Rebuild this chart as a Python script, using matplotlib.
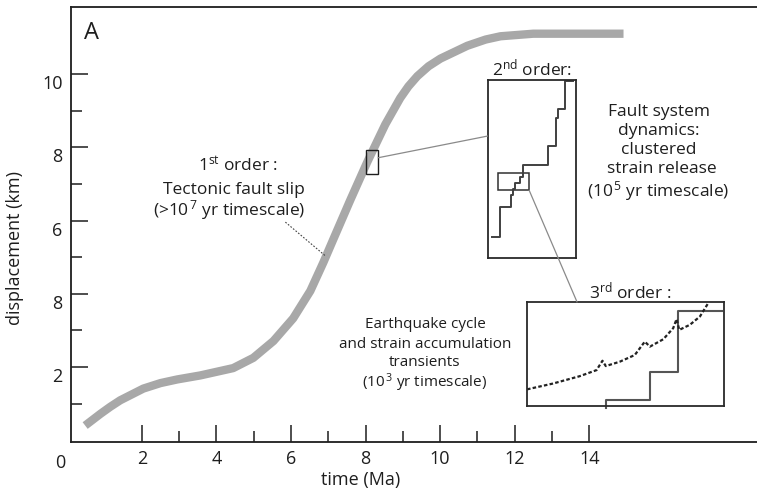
import numpy as np
import matplotlib.pyplot as plt
from matplotlib.patches import Rectangle, ConnectionPatch
from matplotlib.transforms import ScaledTranslation

plt.rcParams['font.family'] = ['Open Sans', 'DejaVu Sans']
plt.rcParams['mathtext.fontset'] = 'custom'
plt.rcParams['mathtext.rm'] = 'Open Sans'
plt.rcParams['mathtext.it'] = 'Open Sans:italic'
plt.rcParams['mathtext.bf'] = 'Open Sans:bold'

# 1st order: tectonic fault slip (time in Ma, displacement in km)
time_ma = [0.48, 0.89, 1.15, 1.42, 2.04, 2.50, 2.95, 3.57, 4.45, 4.99, 5.53,
           6.06, 6.52, 6.87, 7.14, 7.59, 8.05, 8.53, 8.93, 9.15, 9.39, 9.69,
           10.01, 10.73, 11.22, 11.62, 12.50, 14.92]
disp_km = [0.40, 0.72, 0.91, 1.09, 1.41, 1.56, 1.66, 1.77, 1.97, 2.25, 2.71,
           3.33, 4.08, 4.86, 5.50, 6.56, 7.61, 8.63, 9.35, 9.67, 9.95, 10.22,
           10.43, 10.78, 10.95, 11.04, 11.11, 11.11]

xticks_major = [2, 4, 6, 8, 10, 12, 14]
xticks_minor = [3, 5, 7, 9, 11, 13]
yticks_major = [2, 4, 6, 8, 10]
yticks_labels = ['2', '8', '6', '8', '10']
yticks_minor = [1, 3, 5, 7, 9]

# zoom box on the curve
zoom1_t = [8.02, 8.34]
zoom1_d = [7.27, 7.92]

# 2nd order staircase (fractions of inset box)
st2_x = [0.053, 0.140, 0.140, 0.265, 0.265, 0.292, 0.292, 0.318, 0.318, 0.367, 0.367,
         0.398, 0.398, 0.682, 0.682, 0.777, 0.777, 0.803, 0.803, 0.886, 0.886, 0.973]
st2_y = [0.118, 0.118, 0.287, 0.287, 0.353, 0.353, 0.390, 0.390, 0.424, 0.424, 0.456,
         0.456, 0.525, 0.525, 0.630, 0.630, 0.784, 0.784, 0.837, 0.837, 0.994, 0.994]
zoom2_x = [0.114, 0.473]
zoom2_y = [0.381, 0.478]

# 3rd order: slip staircase + strain accumulation (dotted)
st3_x = [0.40, 0.40, 0.624, 0.624, 0.768, 0.768, 0.992]
st3_y = [-0.016, 0.055, 0.055, 0.329, 0.329, 0.916, 0.916]
acc_x = [0.0, 0.132, 0.268, 0.353, 0.383, 0.40, 0.471, 0.547, 0.598, 0.624,
         0.692, 0.742, 0.759, 0.773, 0.827, 0.878, 0.92]
acc_y = [0.16, 0.216, 0.287, 0.345, 0.435, 0.384, 0.426, 0.490, 0.619, 0.571,
         0.642, 0.748, 0.835, 0.732, 0.781, 0.861, 0.99]

W, H = 757, 492


def fx(px):
    return px / W


def fy(py):
    return 1 - py / H


ink = '#1e1e1e'
fig = plt.figure(figsize=(7.57, 4.92), dpi=100)
ax = fig.add_axes([fx(71), fy(442), fx(757) - fx(71), fy(7) - fy(442)])

ax.plot(time_ma, disp_km, color='#a8a8a8', lw=6, solid_capstyle='butt',
        solid_joinstyle='round', zorder=2)
ax.set_xlim(0.1, 18.5)
ax.set_ylim(-0.05, 11.84)

ax.set_xticks(xticks_major)
ax.set_xticks(xticks_minor, minor=True)
ax.set_yticks(yticks_major)
ax.set_yticklabels(yticks_labels)
ax.set_yticks(yticks_minor, minor=True)
ax.tick_params(which='major', direction='in', length=12, width=1.1, color=ink,
               labelsize=13, labelcolor=ink, pad=6)
ax.tick_params(which='minor', direction='in', length=8, width=1.1, color=ink)
ax.spines['right'].set_visible(False)
for s in ['left', 'bottom', 'top']:
    ax.spines[s].set_linewidth(1.3)
    ax.spines[s].set_color(ink)

off = ScaledTranslation(0, -0.08, fig.dpi_scale_trans)
for t in ax.yaxis.get_major_ticks():
    t.label1.set_transform(t.label1.get_transform() + off)

ax.set_xlabel('time (Ma)', fontsize=13, color=ink, va='center')
ax.xaxis.set_label_coords((361 - 71) / (757 - 71), -(480 - 442) / (442 - 7))
ax.set_ylabel('displacement (km)', fontsize=13, color=ink, va='center')
ax.yaxis.set_label_coords(-(71 - 15) / (757 - 71), (442 - 248) / (442 - 7))
fig.text(fx(60), fy(463), '0', fontsize=13, color=ink, ha='center', va='center')
fig.text(fx(91), fy(33), 'A', fontsize=17, color=ink, ha='center', va='center')

ax.add_patch(Rectangle((zoom1_t[0], zoom1_d[0]), zoom1_t[1] - zoom1_t[0],
                       zoom1_d[1] - zoom1_d[0], fill=False, ec=ink, lw=1.0, zorder=3))
ax.plot([5.85, 6.92], [5.96, 5.04], color='#444444', lw=0.8, ls=(0, (1.5, 1.5)))

# inset 2
ax2 = fig.add_axes([fx(487.5), fy(258), fx(575.5) - fx(487.5), fy(80) - fy(258)])
ax2.plot(st2_x, st2_y, color='#404040', lw=1.4)
ax2.add_patch(Rectangle((zoom2_x[0], zoom2_y[0]), zoom2_x[1] - zoom2_x[0],
                        zoom2_y[1] - zoom2_y[0], fill=False, ec='#303030', lw=1.1))
# inset 3
ax3 = fig.add_axes([fx(527), fy(406), fx(724) - fx(527), fy(302) - fy(406)])
ax3.plot(st3_x, st3_y, color='#555555', lw=1.5, clip_on=False)
ax3.plot(acc_x, acc_y, color='#222222', lw=1.6, ls=(0, (1.6, 1.0)))

for a in (ax2, ax3):
    a.set_xlim(0, 1)
    a.set_ylim(0, 1)
    a.set_xticks([])
    a.set_yticks([])
    for s in a.spines.values():
        s.set_linewidth(1.3)
        s.set_color('#2a2a2a')

con1 = ConnectionPatch(xyA=(zoom1_t[1], 7.72), coordsA=ax.transData,
                       xyB=(0.0, 0.685), coordsB=ax2.transAxes,
                       color='#8a8a8a', lw=0.9)
fig.add_artist(con1)
con2 = ConnectionPatch(xyA=(zoom2_x[1], zoom2_y[0]), coordsA=ax2.transAxes,
                       xyB=(0.254, 1.0), coordsB=ax3.transAxes,
                       color='#8a8a8a', lw=0.9)
fig.add_artist(con2)

fs = 12.5
fs3 = 11
fig.text(fx(238), fy(165), r'1$^{\mathrm{st}}$ order :', fontsize=fs, ha='center', va='center', color=ink)
fig.text(fx(234), fy(190), 'Tectonic fault slip', fontsize=fs, ha='center', va='center', color=ink)
fig.text(fx(229), fy(210), r'(>10$^{\,7}$ yr timescale)', fontsize=fs, ha='center', va='center', color=ink)

fig.text(fx(532), fy(68), r'2$^{\mathrm{nd}}$ order:', fontsize=fs, ha='center', va='center', color=ink)
fig.text(fx(659), fy(112), 'Fault system', fontsize=fs, ha='center', va='center', color=ink)
fig.text(fx(659), fy(131), 'dynamics:', fontsize=fs, ha='center', va='center', color=ink)
fig.text(fx(659), fy(150), 'clustered', fontsize=fs, ha='center', va='center', color=ink)
fig.text(fx(662), fy(169), 'strain release', fontsize=fs, ha='center', va='center', color=ink)
fig.text(fx(658), fy(191), r'(10$^{\,5}$ yr timescale)', fontsize=fs, ha='center', va='center', color=ink)

fig.text(fx(630), fy(291), r'3$^{\mathrm{rd}}$ order :', fontsize=fs, ha='center', va='center', color=ink)
fig.text(fx(425), fy(325), 'Earthquake cycle', fontsize=fs3, ha='center', va='center', color=ink)
fig.text(fx(425), fy(344), 'and strain accumulation', fontsize=fs3, ha='center', va='center', color=ink)
fig.text(fx(425), fy(363), 'transients', fontsize=fs3, ha='center', va='center', color=ink)
fig.text(fx(425), fy(383), r'(10$^{\,3}$ yr timescale)', fontsize=fs3, ha='center', va='center', color=ink)

fig.savefig('out.png', dpi=100)
